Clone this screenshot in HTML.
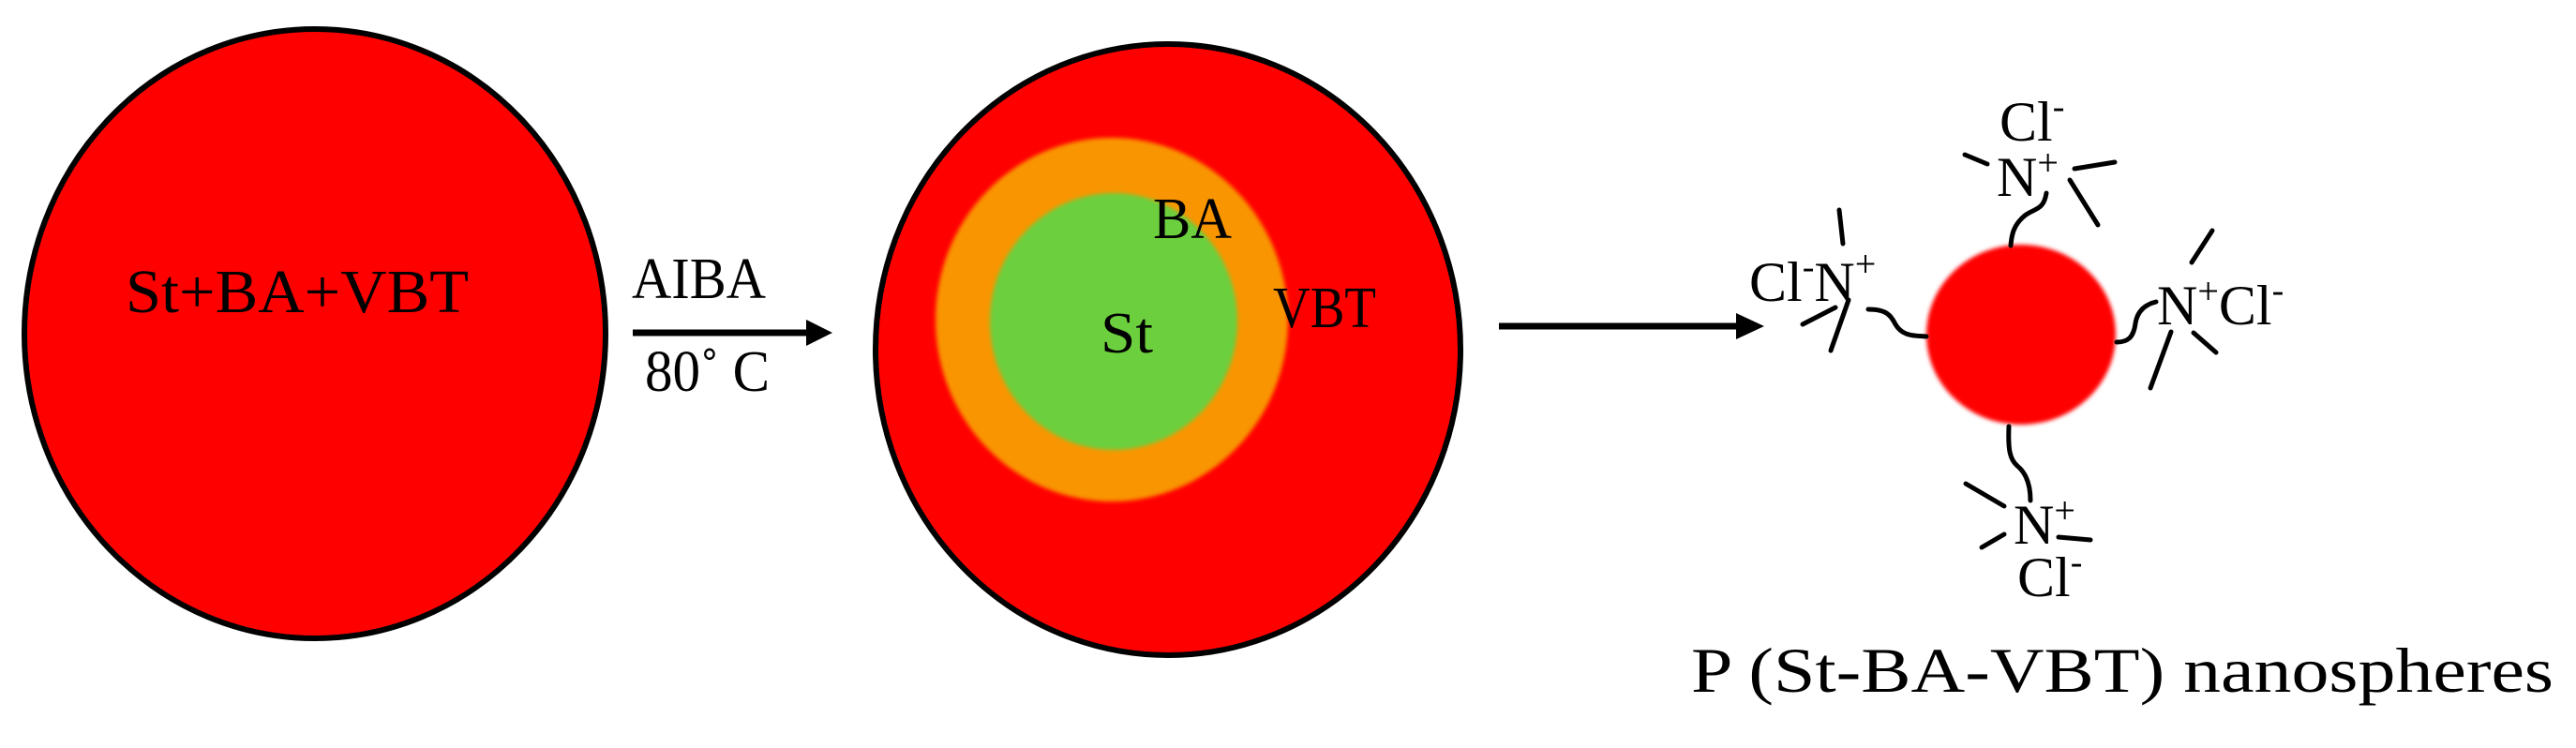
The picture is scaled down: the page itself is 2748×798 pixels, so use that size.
<!DOCTYPE html>
<html><head><style>
html,body{margin:0;padding:0;background:#fff;}
svg{display:block;}
text{font-family:"Liberation Serif",serif;fill:#000;}
</style></head><body>
<svg width="2748" height="798" viewBox="0 0 2748 798" xmlns="http://www.w3.org/2000/svg">
<defs>
<filter id="blur"><feGaussianBlur stdDeviation="2"/></filter>
</defs>
<ellipse cx="336" cy="356" rx="310" ry="325" fill="#ff0000" stroke="#000" stroke-width="6"/>
<text x="134" y="333" font-size="66" textLength="366" lengthAdjust="spacingAndGlyphs">St+BA+VBT</text>
<line x1="675" y1="355" x2="862" y2="355" stroke="#000" stroke-width="7"/>
<polygon points="860,341 888,355 860,369" fill="#000"/>
<text x="674" y="318" font-size="62" textLength="143" lengthAdjust="spacingAndGlyphs">AIBA</text>
<text x="688" y="417" font-size="62" textLength="133" lengthAdjust="spacingAndGlyphs">80˚ C</text>
<ellipse cx="1246" cy="373" rx="312" ry="326" fill="#ff0000" stroke="#000" stroke-width="6"/>
<ellipse cx="1186" cy="341" rx="188" ry="194" fill="#f99500" filter="url(#blur)"/>
<ellipse cx="1188" cy="343" rx="132" ry="137" fill="#6ccf3c" filter="url(#blur)"/>
<text x="1230" y="254" font-size="62" textLength="84" lengthAdjust="spacingAndGlyphs">BA</text>
<text x="1174" y="376" font-size="62" textLength="56" lengthAdjust="spacingAndGlyphs">St</text>
<text x="1358" y="349" font-size="62" textLength="110" lengthAdjust="spacingAndGlyphs">VBT</text>
<line x1="1599" y1="348" x2="1855" y2="348" stroke="#000" stroke-width="7"/>
<polygon points="1852,334 1882,348 1852,362" fill="#000"/>
<ellipse cx="2156" cy="357" rx="101" ry="96" fill="#ff0000" filter="url(#blur)"/>
<g stroke="#000" stroke-width="5" fill="none" stroke-linecap="round">
<path d="M2183,206 C2180,225 2170,222 2160,230 C2148,240 2146,250 2145,262"/>
<line x1="2096" y1="165" x2="2120" y2="175"/>
<line x1="2213" y1="180" x2="2256" y2="173"/>
<line x1="2208" y1="192" x2="2238" y2="240"/>
<path d="M1993,330 C2012,330 2017,336 2022,346 C2030,360 2045,358 2055,359"/>
<line x1="1962" y1="224" x2="1966" y2="260"/>
<line x1="1923" y1="346" x2="1958" y2="328"/>
<line x1="1972" y1="320" x2="1953" y2="374"/>
<path d="M2258,365 C2270,365 2276,360 2278,345 C2280,332 2288,325 2300,322"/>
<line x1="2360" y1="246" x2="2338" y2="280"/>
<line x1="2340" y1="355" x2="2364" y2="376"/>
<line x1="2316" y1="354" x2="2294" y2="414"/>
<path d="M2143,455 C2142,480 2144,490 2152,497 C2163,506 2166,520 2166,534"/>
<line x1="2097" y1="516" x2="2138" y2="540"/>
<line x1="2114" y1="584" x2="2138" y2="570"/>
<line x1="2196" y1="573" x2="2230" y2="576"/>
</g>
<g font-size="60">
<text x="2133" y="150">Cl<tspan font-size="38" dy="-24">-</tspan></text>
<text x="2130" y="209">N<tspan font-size="40" dy="-22">+</tspan></text>
<text x="1866" y="321">Cl<tspan font-size="38" dy="-24">-</tspan><tspan font-size="60" dy="24">N</tspan><tspan font-size="40" dy="-26">+</tspan></text>
<text x="2301" y="346">N<tspan font-size="40" dy="-22">+</tspan><tspan font-size="60" dy="22">Cl</tspan><tspan font-size="38" dy="-24">-</tspan></text>
<text x="2148" y="580">N<tspan font-size="40" dy="-22">+</tspan></text>
<text x="2152" y="636">Cl<tspan font-size="38" dy="-24">-</tspan></text>
</g>
<text x="1804" y="738" font-size="68" textLength="920" lengthAdjust="spacingAndGlyphs">P (St-BA-VBT) nanospheres</text>
</svg>
</body></html>
